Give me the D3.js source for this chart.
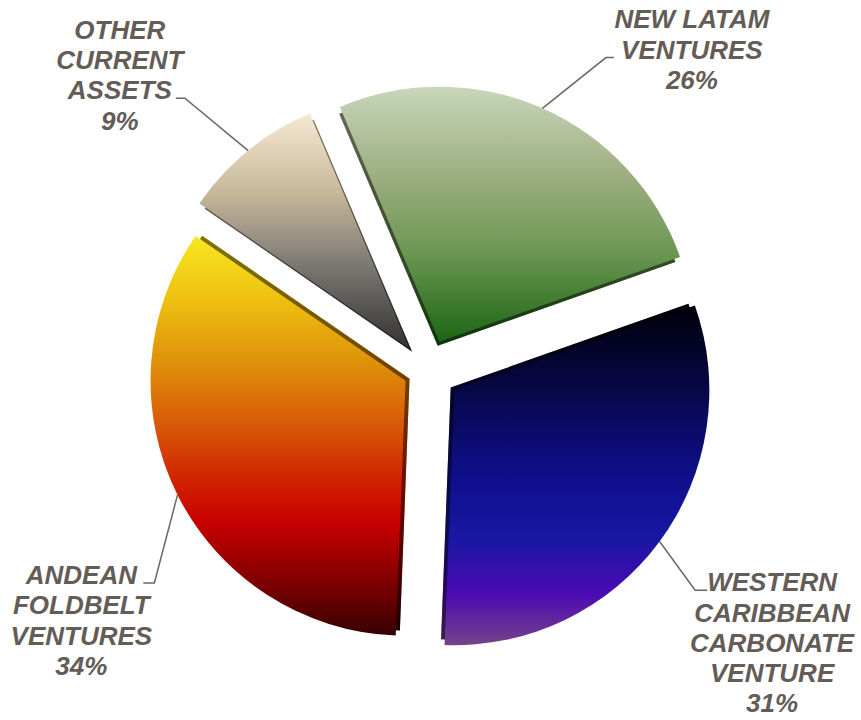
<!DOCTYPE html>
<html><head><meta charset="utf-8">
<script src="https://cdn.jsdelivr.net/npm/d3@7"></script>
<style>html,body{margin:0;padding:0;background:#fff}</style>
</head><body><svg id="chart" width="861" height="720"></svg>
<script>
// ---- data ----
const categories = ["NEW LATAM VENTURES", "WESTERN CARIBBEAN CARBONATE VENTURE", "ANDEAN FOLDBELT VENTURES", "OTHER CURRENT ASSETS"];
const labelLines = [["NEW LATAM", "VENTURES"], ["WESTERN", "CARIBBEAN", "CARBONATE", "VENTURE"], ["ANDEAN", "FOLDBELT", "VENTURES"], ["OTHER", "CURRENT", "ASSETS"]];
const shares = [26, 31, 34, 9];
const percentLabels = ["26%", "31%", "34%", "9%"];

// ---- style ----
const gradients = [
  [[0, "#c8d6bb"], [0.35, "#9dae80"], [0.65, "#6c9752"], [1, "#1c6614"]],
  [[0, "#00000a"], [0.25, "#070748"], [0.5, "#0f0f8c"], [0.68, "#1717a2"], [0.85, "#4c0ab4"], [1, "#744488"]],
  [[0, "#f8e722"], [0.15, "#efc212"], [0.3, "#e0960a"], [0.47, "#d85a08"], [0.62, "#d01e00"], [0.72, "#c60000"], [0.87, "#7e0000"], [1, "#360000"]],
  [[0, "#f6e9d2"], [0.33, "#c9b99c"], [0.65, "#7b7772"], [1, "#333333"]]
];
const textColor = "#645c56";
const leaderColor = "#6e6660";

// ---- layout ----
const W = 861, H = 720;
const cx = 427, cy = 370, R = 255;
const startDeg = -23;
const explode = [31, 34, 24, 28];
const elbowPolar = [[29.8, 360], [129.4, 347], [232.0, 346], [318.3, 364]]; // [deg, radius] from pie centre
const tickLen = [8, 12, -11, -9];
const textDx = [86, 77, -73, -65];
const attachLine = [1, 0, 0, 2];
const lineH = 30.3;

const svg = d3.select("#chart");
const defs = svg.append("defs");

gradients.forEach((stops, i) => {
  const g = defs.append("linearGradient").attr("id", "grad" + i)
    .attr("x1", 0).attr("y1", 0).attr("x2", 0).attr("y2", 1);
  stops.forEach(s => g.append("stop").attr("offset", s[0]).attr("stop-color", s[1]));
});

const pie = d3.pie().sort(null).value(d => d)
  .startAngle(startDeg * Math.PI / 180)
  .endAngle((startDeg + 360) * Math.PI / 180);
const arcs = pie(shares);
const arc = d3.arc().innerRadius(0).outerRadius(R);
const sideArc = d3.arc().innerRadius(0).outerRadius(R - 3);
const rimArc = d3.arc().innerRadius(R).outerRadius(R);

function offset(a, d) {
  const m = (a.startAngle + a.endAngle) / 2;
  return [d * Math.sin(m), -d * Math.cos(m)];
}

const g = svg.append("g").attr("transform", `translate(${cx},${cy})`);

// side faces (extrusion)
arcs.forEach((a, i) => {
  const o = offset(a, explode[i] - 4.5);
  const s = g.append("g").attr("transform", `translate(${o[0]},${o[1]})`);
  s.append("path").attr("d", sideArc(a)).attr("fill", `url(#grad${i})`);
  s.append("path").attr("d", sideArc(a)).attr("fill", "#000").attr("opacity", 0.5);
});
// top faces
arcs.forEach((a, i) => {
  const o = offset(a, explode[i]);
  g.append("path").attr("d", arc(a))
    .attr("transform", `translate(${o[0]},${o[1]})`)
    .attr("fill", `url(#grad${i})`);
});

// labels + leaders
const labels = svg.append("g")
  .style("font-family", "'Liberation Sans', Arial, sans-serif")
  .style("font-weight", "bold").style("font-style", "italic")
  .style("font-size", "26px");

arcs.forEach((a, i) => {
  const o = offset(a, explode[i]);
  const c = rimArc.centroid(a);
  const p0 = [cx + o[0] + c[0], cy + o[1] + c[1]];
  const ang = elbowPolar[i][0] * Math.PI / 180;
  const p1 = [cx + elbowPolar[i][1] * Math.sin(ang), cy - elbowPolar[i][1] * Math.cos(ang)];
  const p2 = [p1[0] + tickLen[i], p1[1]];
  svg.append("path").attr("d", d3.line()([p0, p1, p2]))
    .attr("fill", "none").attr("stroke", leaderColor).attr("stroke-width", 1.5);
  const lines = labelLines[i].concat([percentLabels[i]]);
  const tx = p1[0] + textDx[i];
  const baseY = p1[1] + 1 - attachLine[i] * lineH;
  const t = labels.append("text").attr("text-anchor", "middle").attr("fill", textColor);
  lines.forEach((l, k) => t.append("tspan").attr("x", tx).attr("y", baseY + k * lineH).text(l));
});
</script>
</body></html>
